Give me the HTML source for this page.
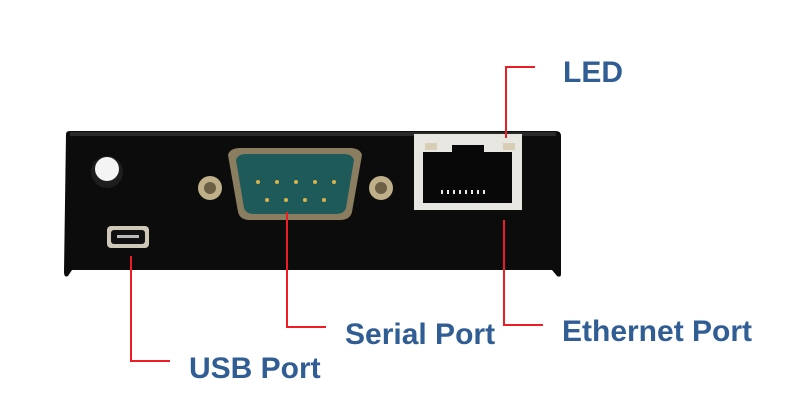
<!DOCTYPE html>
<html><head><meta charset="utf-8"><style>
html,body{margin:0;padding:0;background:#fff;}
svg{display:block}
text{font-family:"Liberation Sans",Arial,sans-serif;font-weight:bold;fill:#305d94;font-size:30px}
</style></head><body>
<svg width="789" height="409" viewBox="0 0 789 409">
<path d="M66,134 Q66,131 70,131 L556,131 Q561,131 561,136 L561,274 Q561,278 557,276 L552,270 L72,270 L68,276 Q64,278 64,272 Z" fill="#0c0c0c"/>
<rect x="70" y="132" width="486" height="4" fill="#2a2a2a"/>
<circle cx="107" cy="172" r="16" fill="#1d1d1d"/>
<circle cx="107" cy="169" r="12" fill="#f4f4f4"/>
<path d="M228,155 Q230,148 240,148 L350,148 Q360,148 362,155 L352,212 Q350,220 340,220 L250,220 Q240,220 238,212 Z" fill="#8a7d60"/>
<path d="M236,160 Q238,154 246,154 L344,154 Q352,154 354,160 L346,208 Q344,214 336,214 L254,214 Q246,214 244,208 Z" fill="#1f5a5a"/>
<g fill="#d9b24a">
<circle cx="258" cy="182" r="2"/><circle cx="277" cy="182" r="2"/><circle cx="296" cy="182" r="2"/><circle cx="315" cy="182" r="2"/><circle cx="334" cy="182" r="2"/>
<circle cx="267" cy="200" r="2"/><circle cx="286" cy="200" r="2"/><circle cx="305" cy="200" r="2"/><circle cx="324" cy="200" r="2"/>
</g>
<circle cx="210" cy="188" r="12" fill="#bfb08a"/><circle cx="210" cy="188" r="6" fill="#6b5f45"/>
<circle cx="381" cy="188" r="12" fill="#bfb08a"/><circle cx="381" cy="188" r="6" fill="#6b5f45"/>
<rect x="107" y="226" width="42" height="22" rx="4" fill="#cfc8b8"/>
<rect x="111" y="230" width="34" height="14" rx="3" fill="#111"/>
<rect x="117" y="235" width="22" height="3" fill="#bbb"/>
<rect x="414" y="134" width="108" height="76" fill="#e8e6e0"/>
<path d="M423,152 L452,152 L452,145 L484,145 L484,152 L512,152 L512,203 L423,203 Z" fill="#080808"/>
<rect x="425" y="143" width="12" height="7" fill="#d9cdb5"/>
<rect x="503" y="143" width="12" height="7" fill="#d9cdb5"/>
<g fill="#e8e8e8"><rect x="441" y="190" width="2" height="4"/><rect x="447" y="190" width="2" height="4"/><rect x="453" y="190" width="2" height="4"/><rect x="459" y="190" width="2" height="4"/><rect x="465" y="190" width="2" height="4"/><rect x="471" y="190" width="2" height="4"/><rect x="477" y="190" width="2" height="4"/><rect x="483" y="190" width="2" height="4"/></g>
<g stroke="#ee1c24" stroke-width="2" fill="none">
<polyline points="535,67 506,67 506,138"/>
<polyline points="504,220 504,325 543,325"/>
<polyline points="287,212 287,327 326,327"/>
<polyline points="131,256 131,361 170,361"/>
</g>
<text x="563" y="82">LED</text>
<text x="345" y="344">Serial Port</text>
<text x="562" y="341">Ethernet Port</text>
<text x="189" y="378">USB Port</text>
</svg>
</body></html>
